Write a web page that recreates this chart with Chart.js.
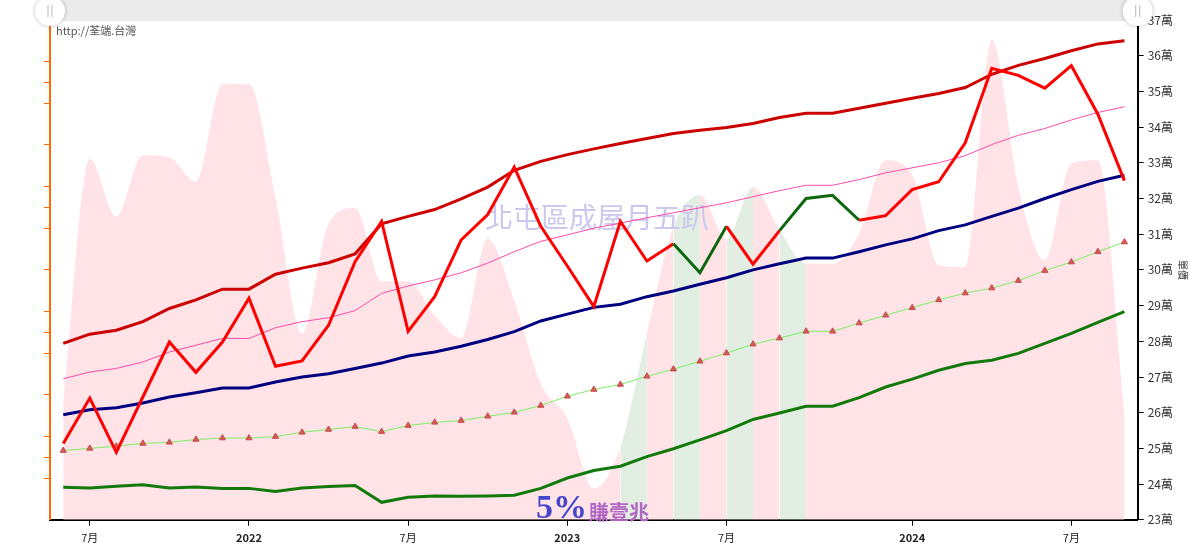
<!DOCTYPE html>
<html>
<head>
<meta charset="utf-8">
<script src="https://cdn.jsdelivr.net/npm/chart.js@4"></script>
<style>
  html, body { margin: 0; padding: 0; background: #fff; }
</style>
</head>
<body>
<canvas id="chart" width="1189" height="549"></canvas>
<script>
// 41 個月 (2021/6 ~ 2024/10)，只在部分位置顯示刻度文字
const tickText = [
  '', '7月', '', '', '', '', '', '2022', '', '', '', '', '', '7月', '', '', '', '', '', '2023',
  '', '', '', '', '', '7月', '', '', '', '', '', '', '2024', '', '', '', '', '', '7月', '', ''
];

// 成交量 (左軸，無標籤)
const volume = [
  5.58, 17.32, 14.54, 17.51, 17.40, 16.22, 20.92, 20.92, 15.44, 8.93,
  14.22, 14.99, 11.45, 11.45, 9.81, 8.72, 13.50, 10.53, 6.53, 4.86,
  1.49, 3.48, 8.93, 14.06, 15.58, 13.50, 15.98, 13.90, 12.30, 12.30,
  13.74, 17.27, 16.55, 12.22, 12.14, 23.04, 15.98, 12.46, 17.11, 17.27, 5.08
];
const volumeGreenSegments = [21, 23, 25, 27];
const leftTicks = [2, 3, 4, 6, 8, 9, 10, 12, 14, 15, 16, 18, 20, 21, 22];

// 單價 (萬)
const priceMonthly = [
  25.14, 26.41, 24.89, 26.44, 27.98, 27.13, 27.98, 29.21, 27.30, 27.45,
  28.45, 30.23, 31.36, 28.28, 29.25, 30.84, 31.55, 32.88, 31.22, 30.11,
  28.97, 31.36, 30.25, 30.73, 29.92, 31.22, 30.16, 31.10, 32.00, 32.09,
  31.39, 31.52, 32.25, 32.47, 33.56, 35.65, 35.45, 35.09, 35.72, 34.36, 32.50
];
const priceGreenSegments = [23, 24, 27, 28, 29];

const upperBand = [
  27.94, 28.20, 28.31, 28.55, 28.92, 29.16, 29.46, 29.46, 29.88, 30.05,
  30.20, 30.45, 31.29, 31.50, 31.69, 31.99, 32.32, 32.79, 33.04, 33.23,
  33.39, 33.54, 33.68, 33.82, 33.91, 33.99, 34.10, 34.27, 34.39, 34.39,
  34.53, 34.67, 34.81, 34.94, 35.11, 35.48, 35.73, 35.92, 36.14, 36.33, 36.42
];
const upperMid = [
  26.95, 27.14, 27.24, 27.42, 27.70, 27.89, 28.08, 28.08, 28.38, 28.55,
  28.66, 28.86, 29.34, 29.55, 29.72, 29.92, 30.19, 30.51, 30.80, 30.98,
  31.17, 31.31, 31.46, 31.60, 31.74, 31.88, 32.05, 32.22, 32.37, 32.37,
  32.53, 32.72, 32.86, 33.00, 33.20, 33.51, 33.77, 33.96, 34.20, 34.41, 34.57
];
const middle = [
  25.94, 26.08, 26.14, 26.27, 26.44, 26.56, 26.69, 26.69, 26.86, 27.00,
  27.09, 27.24, 27.39, 27.59, 27.70, 27.86, 28.05, 28.27, 28.57, 28.76,
  28.95, 29.04, 29.25, 29.41, 29.60, 29.78, 30.00, 30.17, 30.33, 30.33,
  30.51, 30.70, 30.87, 31.10, 31.26, 31.50, 31.73, 32.00, 32.25, 32.48, 32.65
];
const lowerMid = [
  24.94, 25.00, 25.06, 25.14, 25.17, 25.25, 25.29, 25.29, 25.33, 25.45,
  25.53, 25.61, 25.47, 25.64, 25.73, 25.78, 25.90, 26.01, 26.20, 26.46,
  26.65, 26.79, 27.02, 27.22, 27.44, 27.67, 27.92, 28.09, 28.28, 28.28,
  28.51, 28.73, 28.94, 29.16, 29.35, 29.49, 29.70, 29.98, 30.22, 30.51, 30.78
];
const lowerBand = [
  23.91, 23.89, 23.94, 23.98, 23.89, 23.92, 23.88, 23.88, 23.79, 23.89,
  23.93, 23.96, 23.49, 23.63, 23.67, 23.66, 23.67, 23.69, 23.88, 24.17,
  24.38, 24.50, 24.77, 24.99, 25.24, 25.50, 25.81, 25.99, 26.18, 26.18,
  26.42, 26.72, 26.94, 27.19, 27.38, 27.47, 27.66, 27.94, 28.22, 28.53, 28.83
];

const FONT = "'Noto Sans CJK TC', 'DejaVu Sans', sans-serif";

// 浮水印：畫在成交量面積之後、線之前
const watermark = {
  id: 'watermark',
  afterDatasetDraw(chart, args) {
    if (args.index !== 0) return;
    const ctx = chart.ctx;
    ctx.save();
    ctx.textAlign = 'center';
    ctx.textBaseline = 'middle';
    ctx.fillStyle = '#cac8ee';
    ctx.font = '28px ' + FONT;
    ctx.fillText('北屯區成屋月五趴', 597, 217);

    ctx.textAlign = 'left';
    ctx.textBaseline = 'alphabetic';
    ctx.fillStyle = '#4646cc';
    ctx.font = "bold 34px 'Liberation Serif', serif";
    ctx.fillText('5%', 536, 518);
    ctx.fillStyle = '#b264c4';
    ctx.font = 'bold 20px ' + FONT;
    ctx.textBaseline = 'middle';
    ctx.fillText('賺壹兆', 589, 512);
    ctx.restore();
  }
};

// 上方的範圍拉桿與網址文字
const navigator = {
  id: 'navigator',
  afterDraw(chart) {
    const ctx = chart.ctx;
    const { left, right } = chart.chartArea;
    ctx.save();
    ctx.fillStyle = '#ebebeb';
    ctx.fillRect(left, 0, right - left, 21);

    ctx.fillStyle = '#555';
    ctx.font = '11px ' + FONT;
    ctx.textBaseline = 'middle';
    ctx.fillText('http://荃端.台灣', 56, 31);

    [left, right].forEach(x => {
      ctx.save();
      ctx.shadowColor = 'rgba(0,0,0,0.25)';
      ctx.shadowBlur = 4;
      ctx.beginPath();
      ctx.arc(x, 11, 15, 0, Math.PI * 2);
      ctx.fillStyle = '#fff';
      ctx.fill();
      ctx.restore();
      ctx.strokeStyle = '#bbb';
      ctx.lineWidth = 1;
      ctx.beginPath();
      ctx.moveTo(x - 2, 5); ctx.lineTo(x - 2, 17);
      ctx.moveTo(x + 2, 5); ctx.lineTo(x + 2, 17);
      ctx.stroke();
    });
    ctx.restore();
  }
};

const lineBase = { yAxisID: 'yR', pointRadius: 0, tension: 0, fill: false };

new Chart(document.getElementById('chart'), {
  type: 'line',
  data: {
    labels: tickText.map((t, i) => i),
    datasets: [
      {
        label: '成交量',
        data: volume,
        yAxisID: 'yL',
        order: 10,
        fill: 'origin',
        backgroundColor: '#ffe3e6',
        borderWidth: 0,
        pointRadius: 0,
        cubicInterpolationMode: 'monotone',
        segment: {
          backgroundColor: c => volumeGreenSegments.includes(c.p0DataIndex) ? '#e3eee3' : '#ffe3e6'
        }
      },
      { ...lineBase, label: '下軌', data: lowerBand, borderColor: '#127a0a', borderWidth: 3, order: 5 },
      {
        ...lineBase, label: '下中', data: lowerMid, borderColor: '#7aee66', borderWidth: 1, order: 4,
        pointRadius: 3.5, pointStyle: 'triangle',
        pointBackgroundColor: '#d65a5a', pointBorderColor: '#c84848', pointBorderWidth: 1
      },
      { ...lineBase, label: '中線', data: middle, borderColor: '#000080', borderWidth: 3, order: 3 },
      { ...lineBase, label: '上中', data: upperMid, borderColor: '#ff4aaa', borderWidth: 1, order: 2 },
      { ...lineBase, label: '上軌', data: upperBand, borderColor: '#cc0000', borderWidth: 3, order: 1 },
      {
        ...lineBase, label: '月單價', data: priceMonthly, borderColor: '#ff0000', borderWidth: 3, order: 0,
        segment: {
          borderColor: c => priceGreenSegments.includes(c.p0DataIndex) ? '#0e660e' : '#ff0000'
        }
      }
    ]
  },
  options: {
    responsive: false,
    animation: false,
    events: [],
    layout: { padding: { top: 20, left: 44, right: 0, bottom: 0 } },
    plugins: { legend: { display: false }, tooltip: { enabled: false } },
    scales: {
      x: {
        type: 'category',
        offset: true,
        grid: {
          drawOnChartArea: false,
          tickLength: 6,
          tickColor: c => tickText[c.index] ? '#000' : 'rgba(0,0,0,0)'
        },
        border: { color: '#000', width: 2 },
        ticks: {
          autoSkip: false,
          maxRotation: 0,
          padding: 5,
          color: '#222',
          callback: (v, i) => tickText[i],
          font: c => ({
            family: FONT,
            size: 11,
            weight: /^\d{4}$/.test(tickText[c.index] || '') ? 'bold' : 'normal'
          })
        }
      },
      yL: {
        position: 'left',
        min: 0,
        max: 24,
        afterBuildTicks: axis => { axis.ticks = leftTicks.map(v => ({ value: v })); },
        ticks: { display: false },
        grid: { drawOnChartArea: false, tickLength: 6, tickColor: '#ff6a00' },
        border: { color: '#ff6a00', width: 2 }
      },
      yR: {
        position: 'right',
        min: 23,
        max: 37,
        ticks: {
          stepSize: 1,
          padding: 4,
          color: '#333',
          font: { family: FONT, size: 12 },
          callback: v => v + '萬'
        },
        grid: { drawOnChartArea: false, tickLength: 6, tickColor: '#000' },
        border: { color: '#000', width: 2 },
        title: { display: true, text: '單價', color: '#333', font: { family: FONT, size: 10 }, padding: 0 }
      }
    }
  },
  plugins: [watermark, navigator]
});
</script>
</body>
</html>
